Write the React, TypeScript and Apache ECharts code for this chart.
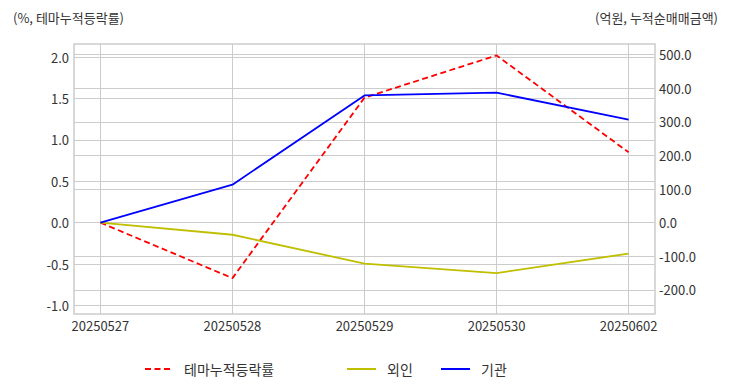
import React, { useEffect, useRef } from "react";
import * as echarts from "echarts";

const dates = ["20250527", "20250528", "20250529", "20250530", "20250602"];
const themeReturn = [0, -0.67, 1.51, 2.02, 0.85];
const foreign = [0, -36, -122, -150, -92];
const institution = [0, 113, 379, 387, 307];
const leftTicks = [-1.0, -0.5, 0.0, 0.5, 1.0, 1.5, 2.0];
const rightTicks = [-200, -100, 0, 100, 200, 300, 400, 500];
const xTicks = [0, 1, 2, 3, 4];

const FONT = "'Noto Sans CJK KR', 'Noto Sans', sans-serif";
const TXT = "#333333";
const GRID = "#cccccc";

export default function App() {
  const ref = useRef<HTMLDivElement>(null);
  useEffect(() => {
    if (!ref.current) return;
    const chart = echarts.init(ref.current, undefined, { renderer: "svg" });
    const idx = dates.map((_, i) => i);
    const legendCommon = {
      top: 357,
      itemHeight: 16,
      itemStyle: { opacity: 0 },
    };
    chart.setOption({
      animation: false,
      backgroundColor: "#ffffff",
      textStyle: { fontFamily: FONT },
      title: [
        {
          text: "(%, 테마누적등락률)",
          left: 8,
          top: 6,
          textStyle: { fontSize: 13, fontWeight: "normal", color: TXT, fontFamily: FONT },
        },
        {
          text: "(억원, 누적순매매금액)",
          right: 9,
          top: 6,
          textStyle: { fontSize: 13, fontWeight: "normal", color: TXT, fontFamily: FONT },
        },
      ],
      grid: {
        left: 74,
        top: 44,
        width: 581,
        height: 270,
        show: true,
        borderColor: GRID,
        borderWidth: 1.5,
        containLabel: false,
      },
      legend: [
        {
          ...legendCommon,
          data: ["테마누적등락률"],
          left: 139,
          itemWidth: 28,
          textStyle: { fontSize: 14, color: TXT, fontFamily: FONT, padding: [0, 0, 0, 6] },
        },
        {
          ...legendCommon,
          data: ["외인"],
          left: 341,
          itemWidth: 29,
          textStyle: { fontSize: 14, color: TXT, fontFamily: FONT, padding: [0, 0, 0, 6] },
        },
        {
          ...legendCommon,
          data: ["기관"],
          left: 435,
          itemWidth: 29,
          textStyle: { fontSize: 14, color: TXT, fontFamily: FONT, padding: [0, 0, 0, 6] },
        },
      ],
      xAxis: {
        type: "value",
        min: -0.2,
        max: 4.2,
        axisLine: { show: false },
        axisTick: { show: false, customValues: xTicks },
        axisLabel: {
          customValues: xTicks,
          formatter: (v: number) => dates[Math.round(v)] ?? "",
          color: TXT,
          fontSize: 13,
          margin: 5,
          fontFamily: FONT,
        },
        splitLine: { show: true, lineStyle: { color: GRID, width: 1 } },
      },
      yAxis: [
        {
          type: "value",
          position: "left",
          min: -1.103,
          max: 2.158,
          axisLine: { show: false },
          axisTick: { show: false, customValues: leftTicks },
          axisLabel: {
            customValues: leftTicks,
            formatter: (v: number) => v.toFixed(1),
            color: TXT,
            fontSize: 13,
            margin: 5,
            fontFamily: FONT,
          },
          splitLine: { show: true, lineStyle: { color: GRID, width: 1 } },
        },
        {
          type: "value",
          position: "right",
          min: -272,
          max: 532,
          axisLine: { show: false },
          axisTick: { show: false, customValues: rightTicks },
          axisLabel: {
            customValues: rightTicks,
            formatter: (v: number) => v.toFixed(1),
            color: TXT,
            fontSize: 13,
            margin: 4,
            fontFamily: FONT,
          },
          splitLine: { show: true, lineStyle: { color: GRID, width: 1 } },
        },
      ],
      series: [
        {
          name: "테마누적등락률",
          type: "line",
          yAxisIndex: 0,
          symbol: "none",
          data: idx.map((i) => [i, themeReturn[i]]),
          lineStyle: { color: "#ff0000", width: 1.8, type: [6, 3.5] },
          itemStyle: { color: "#ff0000" },
        },
        {
          name: "외인",
          type: "line",
          yAxisIndex: 1,
          symbol: "none",
          data: idx.map((i) => [i, foreign[i]]),
          lineStyle: { color: "#bfbf00", width: 1.8 },
          itemStyle: { color: "#bfbf00" },
        },
        {
          name: "기관",
          type: "line",
          yAxisIndex: 1,
          symbol: "none",
          data: idx.map((i) => [i, institution[i]]),
          lineStyle: { color: "#0000ff", width: 1.8 },
          itemStyle: { color: "#0000ff" },
        },
      ],
    });
    return () => chart.dispose();
  }, []);
  return (
    <div
      ref={ref}
      style={{ position: "fixed", left: 0, top: 0, width: 732, height: 392 }}
    />
  );
}
